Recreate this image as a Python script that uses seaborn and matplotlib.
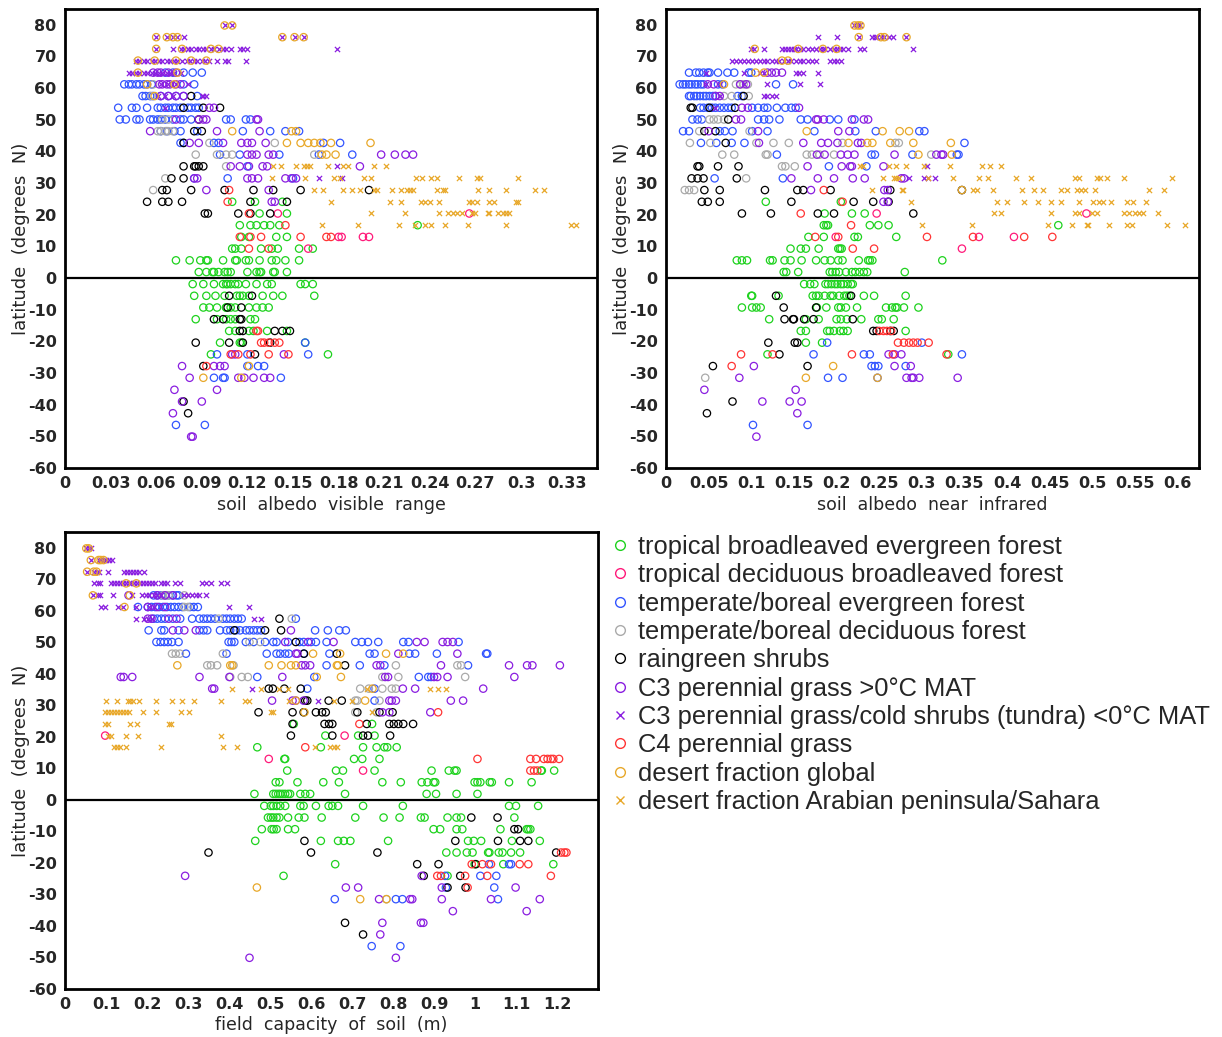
import pandas as pd
import matplotlib
matplotlib.use("Agg")
import matplotlib.pyplot as plt
import seaborn as sns
from matplotlib.lines import Line2D

# ---- categories ----
labels = [
    "tropical broadleaved evergreen forest",
    "tropical deciduous broadleaved forest",
    "temperate/boreal evergreen forest",
    "temperate/boreal deciduous forest",
    "raingreen shrubs",
    "C3 perennial grass >0\u00b0C MAT",
    "C3 perennial grass/cold shrubs (tundra) <0\u00b0C MAT",
    "C4 perennial grass",
    "desert fraction global",
    "desert fraction Arabian peninsula/Sahara",
]
keys = ["tbe", "tdb", "teb", "tbd", "rs", "c3", "c3t", "c4", "dg", "da"]
colors = ["#1ed21e", "#ff1a7a", "#3355ff", "#aaaaaa", "#000000",
          "#8a1ee0", "#8a1ee0", "#ff3535", "#e8a82a", "#e8a82a"]
markers = ["o", "o", "o", "o", "o", "o", "x", "o", "o", "x"]

# ---- panel 1: soil albedo visible range  {latitude: [values]} ----
vis_tbe = {
    24.1: [0.110, 0.125, 0.143], 20.4: [0.128, 0.146],
    16.7: [0.115, 0.122, 0.126, 0.131, 0.135, 0.141, 0.232],
    13.0: [0.116, 0.121, 0.139, 0.146],
    9.3: [0.110, 0.112, 0.116, 0.129, 0.136, 0.140, 0.154, 0.163],
    5.6: [0.073, 0.082, 0.089, 0.093, 0.094, 0.104, 0.112, 0.113, 0.119, 0.121, 0.128, 0.136, 0.139, 0.145, 0.154],
    1.9: [0.088, 0.093, 0.097, 0.098, 0.101, 0.105, 0.107, 0.109, 0.120, 0.126, 0.128, 0.129, 0.137, 0.138, 0.146],
    -1.9: [0.084, 0.091, 0.098, 0.104, 0.106, 0.107, 0.109, 0.112, 0.114, 0.119, 0.126, 0.133, 0.136, 0.155, 0.158, 0.163],
    -5.6: [0.085, 0.093, 0.099, 0.105, 0.113, 0.115, 0.117, 0.121, 0.130, 0.137, 0.143, 0.164],
    -9.3: [0.091, 0.095, 0.100, 0.106, 0.106, 0.109, 0.112, 0.121, 0.126, 0.130, 0.134],
    -13.0: [0.086, 0.100, 0.106, 0.109, 0.112, 0.122, 0.125],
    -16.7: [0.108, 0.112, 0.121, 0.124, 0.133, 0.146],
    -20.4: [0.102, 0.115, 0.116, 0.158], -24.1: [0.096, 0.173],
}
vis_tdb = {20.4: [0.140, 0.266], 13.0: [0.180, 0.182, 0.196, 0.200], 9.3: [0.160]}
vis_teb = {
    64.9: [0.066, 0.071, 0.078, 0.084, 0.090],
    61.2: [0.039, 0.042, 0.044, 0.047, 0.049, 0.052, 0.054, 0.057, 0.078, 0.085],
    57.5: [0.051, 0.053, 0.056, 0.058, 0.063, 0.068, 0.073, 0.078, 0.087],
    53.8: [0.035, 0.044, 0.047, 0.054, 0.061, 0.063, 0.066, 0.068, 0.071, 0.073, 0.076, 0.081, 0.083, 0.086, 0.088],
    50.1: [0.036, 0.040, 0.047, 0.049, 0.056, 0.058, 0.061, 0.063, 0.066, 0.071, 0.076, 0.078, 0.083, 0.106, 0.109, 0.119, 0.122],
    46.4: [0.063, 0.067, 0.072, 0.076, 0.087, 0.117, 0.135, 0.145, 0.154],
    42.7: [0.076, 0.078, 0.098, 0.101, 0.170, 0.181],
    39.0: [0.102, 0.115, 0.141, 0.167, 0.189], 35.3: [0.120],
    31.5: [0.085, 0.107, 0.150], -20.4: [0.158], -24.1: [0.100, 0.120, 0.160],
    -27.8: [0.120, 0.127, 0.131], -31.5: [0.098, 0.104, 0.105, 0.142],
    -46.4: [0.073, 0.092],
}
vis_tbd = {
    61.2: [0.058], 57.5: [0.057], 50.1: [0.064, 0.068],
    46.4: [0.061, 0.063, 0.066, 0.068, 0.071], 42.7: [0.095, 0.138],
    39.0: [0.086, 0.100, 0.106, 0.110, 0.164], 35.3: [0.106], 31.5: [0.066], 27.8: [0.058],
}
vis_rs = {
    57.5: [0.083], 53.8: [0.078, 0.091, 0.102], 50.1: [0.088], 46.4: [0.085, 0.090],
    42.7: [0.078], 35.3: [0.078, 0.085, 0.086, 0.088, 0.091], 31.5: [0.070, 0.078],
    27.8: [0.064, 0.067, 0.083, 0.105, 0.124, 0.137, 0.155, 0.200],
    24.1: [0.054, 0.064, 0.068, 0.077, 0.122, 0.146],
    20.4: [0.092, 0.094, 0.114, 0.122, 0.135],
    -5.6: [0.108, 0.123], -9.3: [0.107, 0.116], -13.0: [0.098, 0.104, 0.115, 0.116],
    -16.7: [0.115, 0.117, 0.138, 0.143, 0.148], -20.4: [0.086, 0.108, 0.117, 0.135],
    -24.1: [0.125], -27.8: [0.091], -39.0: [0.078], -42.7: [0.081],
}
vis_c3 = {
    64.9: [0.058, 0.061, 0.063, 0.068, 0.073],
    61.2: [0.062, 0.064, 0.067, 0.069, 0.073, 0.076],
    57.5: [0.063, 0.068, 0.073, 0.078], 53.8: [0.095, 0.098],
    50.1: [0.073, 0.088, 0.091, 0.093, 0.126, 0.127], 46.4: [0.056, 0.100, 0.128],
    42.7: [0.082, 0.088, 0.104, 0.116, 0.120, 0.123, 0.132],
    39.0: [0.120, 0.123, 0.126, 0.134, 0.137, 0.208, 0.217, 0.224, 0.229],
    35.3: [0.109, 0.115, 0.121, 0.130, 0.133, 0.194],
    31.5: [0.085, 0.087, 0.120, 0.123, 0.127, 0.145, 0.149, 0.152],
    27.8: [0.093, 0.134], 24.1: [0.136, 0.138],
    -24.1: [0.110, 0.112, 0.144], -27.8: [0.077, 0.098, 0.102, 0.105],
    -31.5: [0.082, 0.114, 0.118, 0.124, 0.131, 0.135], -35.3: [0.072, 0.100],
    -39.0: [0.077, 0.090], -42.7: [0.071], -50.1: [0.083, 0.084],
}
vis_c3t = {
    79.8: [0.105, 0.110],
    76.1: [0.060, 0.067, 0.071, 0.074, 0.078, 0.143, 0.151, 0.157],
    72.4: [0.060, 0.071, 0.076, 0.078, 0.081, 0.083, 0.086, 0.088, 0.091, 0.093, 0.096, 0.098, 0.101, 0.104, 0.106, 0.109, 0.115, 0.117, 0.120, 0.179],
    68.7: [0.047, 0.049, 0.052, 0.054, 0.057, 0.059, 0.062, 0.064, 0.067, 0.069, 0.072, 0.074, 0.077, 0.080, 0.082, 0.085, 0.087, 0.090, 0.092, 0.095, 0.100, 0.105, 0.107, 0.119],
    64.9: [0.042, 0.044, 0.047, 0.049, 0.052, 0.054, 0.057, 0.059, 0.062, 0.064, 0.067, 0.069, 0.072, 0.076],
    61.2: [0.063, 0.068, 0.073, 0.081], 57.5: [0.061, 0.066, 0.071, 0.090, 0.091, 0.093],
    53.8: [0.066], 35.3: [0.179], 31.5: [0.167, 0.182],
}
vis_c4 = {
    27.8: [0.108], 24.1: [0.107], 20.4: [0.121], 16.7: [0.145],
    13.0: [0.115, 0.122, 0.129, 0.155, 0.172, 0.175], 9.3: [0.121, 0.134],
    -16.7: [0.126, 0.127], -20.4: [0.129, 0.131, 0.134, 0.138, 0.141],
    -24.1: [0.109, 0.114, 0.122, 0.134, 0.147], -27.8: [0.093],
}
vis_dg = {
    79.8: [0.105, 0.110], 76.1: [0.060, 0.067, 0.071, 0.074, 0.143, 0.151, 0.157],
    72.4: [0.060, 0.077, 0.096, 0.101], 68.7: [0.048, 0.059, 0.073, 0.083, 0.093],
    64.9: [0.048, 0.074], 61.2: [0.054, 0.072], 57.5: [0.059],
    46.4: [0.110, 0.149, 0.152],
    42.7: [0.146, 0.155, 0.160, 0.164, 0.168, 0.175, 0.201],
    39.0: [0.169, 0.172, 0.178], -27.8: [0.121], -31.5: [0.091, 0.116],
}
vis_da = {
    35.3: [0.137, 0.142, 0.152, 0.157, 0.159, 0.161, 0.173, 0.183, 0.186, 0.203, 0.211],
    31.5: [0.136, 0.158, 0.177, 0.181, 0.197, 0.201, 0.231, 0.235, 0.241, 0.245, 0.259, 0.271, 0.273, 0.298],
    27.8: [0.164, 0.170, 0.183, 0.189, 0.194, 0.203, 0.205, 0.215, 0.221, 0.225, 0.227, 0.229, 0.245, 0.249, 0.250, 0.272, 0.279, 0.290, 0.309, 0.315],
    24.1: [0.175, 0.214, 0.221, 0.234, 0.237, 0.240, 0.246, 0.266, 0.268, 0.271, 0.279, 0.282, 0.297, 0.298],
    20.4: [0.201, 0.224, 0.246, 0.252, 0.255, 0.258, 0.261, 0.268, 0.270, 0.278, 0.279, 0.285, 0.288, 0.290, 0.292],
    16.7: [0.169, 0.193, 0.220, 0.230, 0.237, 0.241, 0.250, 0.265, 0.290, 0.333, 0.336],
}

# ---- panel 2: soil albedo near infrared ----
nir_tbe = {
    24.1: [0.117, 0.205], 20.4: [0.186, 0.218, 0.233],
    16.7: [0.185, 0.188, 0.190, 0.239, 0.249, 0.261, 0.460],
    13.0: [0.167, 0.185, 0.221, 0.225, 0.270],
    9.3: [0.146, 0.158, 0.164, 0.179, 0.202, 0.204, 0.206],
    5.6: [0.083, 0.089, 0.095, 0.122, 0.125, 0.139, 0.146, 0.159, 0.176, 0.186, 0.193, 0.202, 0.207, 0.226, 0.237, 0.239, 0.242, 0.324],
    1.9: [0.138, 0.141, 0.155, 0.192, 0.195, 0.199, 0.203, 0.211, 0.218, 0.222, 0.227, 0.232, 0.236, 0.280],
    -1.9: [0.162, 0.169, 0.174, 0.187, 0.190, 0.194, 0.198, 0.201, 0.205, 0.208, 0.213, 0.217, 0.219],
    -5.6: [0.100, 0.101, 0.132, 0.172, 0.176, 0.179, 0.186, 0.193, 0.196, 0.203, 0.209, 0.212, 0.215, 0.232, 0.244, 0.281],
    -9.3: [0.089, 0.101, 0.106, 0.111, 0.177, 0.188, 0.202, 0.205, 0.211, 0.224, 0.258, 0.265, 0.269, 0.271, 0.279, 0.296],
    -13.0: [0.121, 0.164, 0.179, 0.200, 0.205, 0.212, 0.229, 0.249, 0.253, 0.267],
    -16.7: [0.158, 0.164, 0.189, 0.192, 0.197, 0.204, 0.208, 0.213, 0.281],
    -20.4: [0.164, 0.183], -24.1: [0.119, 0.331],
}
nir_tdb = {20.4: [0.247, 0.493], 13.0: [0.199, 0.367, 0.408], 9.3: [0.347]}
nir_teb = {
    64.9: [0.027, 0.035, 0.039, 0.044, 0.049, 0.051, 0.061, 0.072, 0.080, 0.097, 0.100],
    61.2: [0.016, 0.020, 0.023, 0.027, 0.030, 0.034, 0.037, 0.041, 0.044, 0.061, 0.066, 0.129, 0.149],
    57.5: [0.027, 0.029, 0.033, 0.036, 0.040, 0.044, 0.047, 0.051, 0.055, 0.058, 0.084, 0.089],
    53.8: [0.040, 0.044, 0.049, 0.054, 0.058, 0.063, 0.068, 0.073, 0.077, 0.101, 0.108, 0.115, 0.119, 0.130, 0.140, 0.147, 0.152],
    50.1: [0.031, 0.037, 0.042, 0.108, 0.115, 0.121, 0.133, 0.158, 0.166, 0.192, 0.202, 0.221],
    46.4: [0.020, 0.027, 0.063, 0.069, 0.078, 0.101, 0.119, 0.174, 0.222, 0.246, 0.297, 0.303],
    42.7: [0.041, 0.059, 0.077, 0.092, 0.350],
    39.0: [0.130, 0.241, 0.245, 0.289, 0.341, 0.343],
    35.3: [0.191, 0.235], 31.5: [0.057, 0.137], -20.4: [0.189, 0.300],
    -24.1: [0.173, 0.232, 0.239, 0.347], -27.8: [0.241, 0.245, 0.249, 0.281],
    -31.5: [0.190, 0.207, 0.248], -46.4: [0.102, 0.166],
}
nir_tbd = {
    61.2: [0.082, 0.087, 0.091, 0.096], 57.5: [0.068, 0.077, 0.097],
    50.1: [0.051, 0.056, 0.061, 0.068], 46.4: [0.039, 0.098],
    42.7: [0.028, 0.052, 0.106, 0.126, 0.144, 0.207, 0.269, 0.273],
    39.0: [0.066, 0.080, 0.117, 0.119, 0.165, 0.171, 0.180, 0.197, 0.311],
    35.3: [0.136, 0.140, 0.151], 31.5: [0.094], 27.8: [0.022, 0.027, 0.033], -31.5: [0.046],
}
nir_rs = {
    57.5: [0.091], 53.8: [0.029, 0.031, 0.051, 0.081], 50.1: [0.073], 46.4: [0.045, 0.058],
    42.7: [0.070], 35.3: [0.037, 0.039, 0.061, 0.085], 31.5: [0.030, 0.037, 0.044, 0.083],
    27.8: [0.045, 0.063, 0.116, 0.154, 0.161, 0.193, 0.263, 0.347],
    24.1: [0.042, 0.049, 0.063, 0.147, 0.220, 0.243, 0.261],
    20.4: [0.089, 0.123, 0.178, 0.197, 0.290],
    -5.6: [0.129, 0.217], -9.3: [0.138, 0.176],
    -13.0: [0.139, 0.149, 0.150, 0.162, 0.173, 0.219],
    -16.7: [0.243, 0.247, 0.263, 0.267], -20.4: [0.120, 0.151, 0.154],
    -24.1: [0.133], -27.8: [0.055, 0.166], -39.0: [0.078], -42.7: [0.048],
}
nir_c3 = {
    64.9: [0.119, 0.124, 0.129, 0.136], 61.2: [0.049, 0.056, 0.087, 0.094],
    57.5: [0.058, 0.063], 53.8: [0.089, 0.096, 0.156],
    50.1: [0.082, 0.088, 0.176, 0.178, 0.185, 0.218, 0.232, 0.237],
    46.4: [0.050, 0.108, 0.202, 0.215],
    42.7: [0.109, 0.161, 0.182, 0.190, 0.201, 0.225, 0.229],
    39.0: [0.177, 0.186, 0.205, 0.213, 0.221, 0.268, 0.317, 0.323, 0.325],
    35.3: [0.166, 0.206, 0.216, 0.218, 0.255],
    31.5: [0.147, 0.178, 0.197, 0.219, 0.233, 0.276, 0.279],
    27.8: [0.170, 0.256, 0.260], 24.1: [0.255, 0.260],
    -24.1: [0.261, 0.268, 0.276], -27.8: [0.103, 0.268, 0.287],
    -31.5: [0.086, 0.282, 0.288, 0.290, 0.297, 0.342], -35.3: [0.045, 0.152],
    -39.0: [0.113, 0.145, 0.159], -42.7: [0.154], -50.1: [0.106],
}
nir_c3t = {
    79.8: [0.221, 0.225, 0.228],
    76.1: [0.178, 0.201, 0.226, 0.241, 0.245, 0.248, 0.252, 0.256, 0.261, 0.266, 0.282],
    72.4: [0.100, 0.103, 0.115, 0.136, 0.139, 0.143, 0.146, 0.150, 0.153, 0.157, 0.161, 0.166, 0.171, 0.176, 0.180, 0.184, 0.187, 0.192, 0.197, 0.200, 0.204, 0.208, 0.213, 0.227, 0.232, 0.290],
    68.7: [0.077, 0.082, 0.087, 0.091, 0.096, 0.101, 0.105, 0.110, 0.115, 0.119, 0.124, 0.129, 0.133, 0.138, 0.143, 0.147, 0.152, 0.157, 0.161, 0.166, 0.171, 0.176, 0.192, 0.197, 0.201, 0.205],
    64.9: [0.047, 0.091, 0.110, 0.115, 0.152, 0.156, 0.161, 0.178],
    61.2: [0.047, 0.063, 0.091, 0.119, 0.157, 0.180],
    57.5: [0.063, 0.115, 0.119, 0.124, 0.129], 53.8: [0.058],
    35.3: [0.306], 31.5: [0.285, 0.302, 0.307, 0.315],
}
nir_c4 = {
    27.8: [0.185], 24.1: [0.207], 20.4: [0.158], 16.7: [0.217],
    13.0: [0.175, 0.202, 0.306, 0.360, 0.420, 0.453], 9.3: [0.219, 0.244],
    -16.7: [0.250, 0.255, 0.259, 0.264],
    -20.4: [0.272, 0.279, 0.285, 0.290, 0.295, 0.308],
    -24.1: [0.088, 0.125, 0.218, 0.266, 0.329], -27.8: [0.077],
}
nir_dg = {
    79.8: [0.221, 0.225, 0.228], 76.1: [0.226, 0.252, 0.256, 0.282],
    72.4: [0.104, 0.155, 0.184, 0.200], 68.7: [0.136, 0.143], 64.9: [0.105, 0.115],
    61.2: [0.068], 46.4: [0.165, 0.254, 0.274, 0.285],
    42.7: [0.214, 0.236, 0.242, 0.263, 0.290, 0.334], 39.0: [0.296, 0.335],
    27.8: [0.347], -27.8: [0.196], -31.5: [0.164, 0.248],
}
nir_da = {
    35.3: [0.228, 0.231, 0.261, 0.270, 0.282, 0.302, 0.333, 0.371, 0.380, 0.393],
    31.5: [0.255, 0.267, 0.270, 0.273, 0.307, 0.336, 0.367, 0.378, 0.410, 0.428, 0.480, 0.484, 0.505, 0.509, 0.517, 0.537, 0.593],
    27.8: [0.242, 0.277, 0.278, 0.360, 0.365, 0.384, 0.417, 0.431, 0.442, 0.463, 0.470, 0.482, 0.487, 0.491, 0.503, 0.566, 0.584],
    24.1: [0.287, 0.388, 0.400, 0.420, 0.436, 0.451, 0.463, 0.484, 0.501, 0.508, 0.512, 0.522, 0.540, 0.548, 0.563],
    20.4: [0.385, 0.393, 0.451, 0.480, 0.484, 0.499, 0.505, 0.537, 0.543, 0.550, 0.555, 0.559, 0.577],
    16.7: [0.300, 0.359, 0.448, 0.476, 0.494, 0.495, 0.519, 0.540, 0.547, 0.587, 0.608],
}

# ---- panel 3: field capacity of soil (m) ----
fc_tbe = {
    24.1: [0.558, 0.749], 20.4: [0.635, 0.715, 0.755],
    16.7: [0.469, 0.624, 0.727, 0.760, 0.779, 0.786, 0.809],
    13.0: [0.535, 0.537, 0.705, 0.725, 0.767],
    9.3: [0.542, 0.661, 0.678, 0.755, 0.894, 0.936, 0.950, 0.955, 1.161, 1.163, 1.193],
    5.6: [0.514, 0.523, 0.567, 0.630, 0.668, 0.774, 0.819, 0.870, 0.884, 0.899, 0.903, 0.999, 1.006, 1.013, 1.036, 1.041, 1.083, 1.138],
    1.9: [0.462, 0.508, 0.514, 0.520, 0.525, 0.531, 0.537, 0.544, 0.549, 0.574, 0.586, 0.598, 0.683, 0.882, 0.905, 0.955, 1.006],
    -1.9: [0.486, 0.502, 0.508, 0.516, 0.525, 0.537, 0.574, 0.582, 0.612, 0.643, 0.652, 0.666, 0.727, 0.824, 1.083, 1.100, 1.154],
    -5.6: [0.495, 0.502, 0.508, 0.516, 0.523, 0.544, 0.570, 0.584, 0.626, 0.708, 0.777, 0.816, 0.868, 0.877, 0.933, 0.955, 0.966, 1.096],
    -9.3: [0.480, 0.504, 0.509, 0.516, 0.544, 0.561, 0.899, 0.915, 0.955, 0.969, 1.062, 1.126, 1.130, 1.135],
    -13.0: [0.464, 0.624, 0.666, 0.680, 0.696, 0.788, 0.983, 0.997, 1.015, 1.090, 1.158],
    -16.7: [0.930, 0.955, 0.980, 0.994, 1.032, 1.035, 1.058, 1.067, 1.088, 1.110],
    -20.4: [0.659, 0.999, 1.069, 1.191], -24.1: [0.533, 0.933],
}
fc_tdb = {20.4: [0.098, 0.682], 13.0: [0.497], 9.3: [0.727]}
fc_teb = {
    64.9: [0.216, 0.225, 0.235, 0.244, 0.253, 0.263, 0.272, 0.277],
    61.2: [0.178, 0.202, 0.211, 0.220, 0.230, 0.239, 0.249, 0.258, 0.267, 0.277, 0.286, 0.305, 0.314, 0.324],
    57.5: [0.216, 0.225, 0.235, 0.244, 0.263, 0.281, 0.310, 0.328, 0.338, 0.347, 0.356, 0.366, 0.385, 0.394, 0.403, 0.413, 0.422, 0.431, 0.563],
    53.8: [0.204, 0.235, 0.242, 0.277, 0.328, 0.338, 0.347, 0.378, 0.394, 0.403, 0.417, 0.427, 0.441, 0.450, 0.460, 0.469, 0.478, 0.610, 0.641, 0.669, 0.685],
    50.1: [0.223, 0.233, 0.242, 0.251, 0.261, 0.277, 0.399, 0.406, 0.413, 0.441, 0.460, 0.488, 0.508, 0.516, 0.544, 0.572, 0.582, 0.600, 0.612, 0.638, 0.708, 0.724, 0.739, 0.764, 0.825, 0.838, 0.960],
    46.4: [0.295, 0.394, 0.492, 0.516, 0.525, 0.537, 0.546, 0.582, 0.645, 0.743, 0.755, 0.840, 0.854, 0.907, 1.027, 1.030],
    42.7: [0.638, 0.719, 0.779, 0.983], 39.0: [0.469, 0.608, 0.863, 0.886, 0.893],
    35.3: [0.591, 0.755], 31.5: [0.755], -20.4: [1.034, 1.083, 1.088],
    -24.1: [0.927, 1.013, 1.052], -27.8: [0.929, 1.047],
    -31.5: [0.658, 0.807, 0.823, 1.056], -46.4: [0.748, 0.818],
}
fc_tbd = {
    64.9: [0.239, 0.246, 0.253, 0.291], 61.2: [0.291, 0.300], 57.5: [0.375, 0.553],
    50.1: [0.450, 0.476], 46.4: [0.261, 0.270, 0.280, 0.385],
    42.7: [0.347, 0.356, 0.371, 0.411, 0.807, 0.957, 0.966],
    39.0: [0.403, 0.431, 0.446, 0.774, 0.813, 0.976],
    35.3: [0.720, 0.741, 0.774, 0.797, 0.807], 31.5: [0.708, 0.713, 0.767],
    27.8: [0.708, 0.760], -31.5: [0.784],
}
fc_rs = {
    57.5: [0.523], 53.8: [0.413, 0.488, 0.527], 50.1: [0.563], 46.4: [0.583, 0.663],
    42.7: [0.683], 35.3: [0.497, 0.507, 0.535, 0.575], 31.5: [0.586, 0.591, 0.643, 0.675],
    27.8: [0.472, 0.555, 0.582, 0.612, 0.627, 0.636, 0.713, 0.767, 0.799],
    24.1: [0.555, 0.633, 0.644, 0.652, 0.736, 0.791, 0.802, 0.813, 0.825, 0.849],
    20.4: [0.551, 0.652, 0.727, 0.739, 0.793],
    -5.6: [0.991, 1.055], -9.3: [1.096, 1.105], -13.0: [0.584, 0.952, 1.056, 1.110, 1.130],
    -16.7: [0.350, 0.600, 0.762, 1.198], -20.4: [0.859, 0.911, 1.002],
    -24.1: [0.875, 0.964], -27.8: [0.933, 0.977], -39.0: [0.683], -42.7: [0.727],
}
fc_c3 = {
    64.9: [0.155, 0.225, 0.244, 0.263], 61.2: [0.202, 0.225, 0.244],
    57.5: [0.202, 0.211, 0.253, 0.272], 53.8: [0.263, 0.291, 0.319, 0.551],
    50.1: [0.537, 0.593, 0.655, 0.858, 0.877, 0.921, 0.933, 0.946],
    46.4: [0.563, 0.567, 0.813, 0.957],
    42.7: [0.577, 0.586, 0.598, 0.760, 0.769, 0.917, 1.083, 1.127, 1.140, 1.207],
    39.0: [0.136, 0.143, 0.164, 0.328, 0.401, 0.530, 0.781, 0.788, 0.900, 0.908, 0.933, 1.096],
    35.3: [0.359, 0.364, 0.824, 0.854, 1.020],
    31.5: [0.505, 0.555, 0.563, 0.582, 0.791, 0.797, 0.807, 0.941, 0.971],
    27.8: [0.774, 0.791, 0.891], -24.1: [0.293, 0.870],
    -27.8: [0.685, 0.715, 0.919, 1.099],
    -31.5: [0.766, 0.842, 0.847, 0.919, 1.039, 1.158], -35.3: [0.946, 1.126],
    -39.0: [0.774, 0.868, 0.874], -42.7: [0.769], -50.1: [0.450, 0.807],
}
fc_c3t = {
    79.8: [0.052, 0.058, 0.064],
    76.1: [0.063, 0.082, 0.087, 0.094, 0.101, 0.108, 0.115],
    72.4: [0.054, 0.070, 0.077, 0.084, 0.105, 0.145, 0.152, 0.159, 0.166, 0.174, 0.180, 0.192],
    68.7: [0.070, 0.080, 0.086, 0.113, 0.120, 0.127, 0.134, 0.141, 0.148, 0.155, 0.162, 0.169, 0.176, 0.183, 0.190, 0.197, 0.204, 0.211, 0.219, 0.235, 0.242, 0.249, 0.269, 0.281, 0.333, 0.344, 0.356, 0.380, 0.394],
    64.9: [0.068, 0.080, 0.086, 0.117, 0.164, 0.188, 0.197, 0.206, 0.216, 0.225, 0.235, 0.291, 0.300, 0.310, 0.319, 0.328, 0.345],
    61.2: [0.089, 0.098, 0.129, 0.141, 0.172, 0.206, 0.216, 0.401, 0.450],
    57.5: [0.174, 0.192, 0.202, 0.211, 0.460, 0.478], 35.3: [0.457], 31.5: [0.617],
}
fc_c4 = {
    27.8: [0.910], 24.1: [0.718], 16.7: [0.586],
    13.0: [1.006, 1.135, 1.149, 1.168, 1.177, 1.185, 1.191, 1.205], 9.3: [1.135, 1.144, 1.152],
    -16.7: [1.210, 1.218, 1.223], -20.4: [0.992, 1.018, 1.039, 1.109, 1.130],
    -24.1: [0.908, 0.917, 0.976, 1.030, 1.185], -27.8: [0.982],
}
fc_dg = {
    79.8: [0.052, 0.058], 76.1: [0.063, 0.082, 0.087, 0.094], 72.4: [0.054, 0.070, 0.077],
    68.7: [0.149, 0.174], 64.9: [0.068, 0.158], 61.2: [0.145],
    46.4: [0.605, 0.671, 0.783, 0.825],
    42.7: [0.274, 0.403, 0.408, 0.497, 0.528, 0.551, 0.563, 0.663, 0.666],
    39.0: [0.614, 0.673], 35.3: [0.750], 31.5: [0.563, 0.732], 27.8: [0.584],
    -27.8: [0.468], -31.5: [0.720, 0.784],
}
fc_da = {
    35.3: [0.408, 0.478, 0.521, 0.544, 0.736, 0.891, 0.910, 0.929],
    31.5: [0.101, 0.127, 0.153, 0.159, 0.167, 0.181, 0.222, 0.261, 0.286, 0.314, 0.380, 0.438, 0.448, 0.546, 0.657, 0.701],
    27.8: [0.098, 0.106, 0.113, 0.120, 0.127, 0.134, 0.141, 0.148, 0.155, 0.190, 0.222, 0.284, 0.302, 0.502, 0.508, 0.750],
    24.1: [0.098, 0.105, 0.159, 0.176, 0.253, 0.258],
    20.4: [0.106, 0.113, 0.150, 0.178, 0.380],
    16.7: [0.120, 0.127, 0.133, 0.150, 0.235, 0.385, 0.420, 0.610, 0.647, 0.657, 0.663],
}

vis_data = [vis_tbe, vis_tdb, vis_teb, vis_tbd, vis_rs, vis_c3, vis_c3t, vis_c4, vis_dg, vis_da]
nir_data = [nir_tbe, nir_tdb, nir_teb, nir_tbd, nir_rs, nir_c3, nir_c3t, nir_c4, nir_dg, nir_da]
fc_data = [fc_tbe, fc_tdb, fc_teb, fc_tbd, fc_rs, fc_c3, fc_c3t, fc_c4, fc_dg, fc_da]

vis_ticks = [0, 0.03, 0.06, 0.09, 0.12, 0.15, 0.18, 0.21, 0.24, 0.27, 0.3, 0.33]
nir_ticks = [0, 0.05, 0.1, 0.15, 0.2, 0.25, 0.3, 0.35, 0.4, 0.45, 0.5, 0.55, 0.6]
fc_ticks = [0, 0.1, 0.2, 0.3, 0.4, 0.5, 0.6, 0.7, 0.8, 0.9, 1, 1.1, 1.2]
lat_ticks = list(range(-60, 81, 10))


def to_frame(d):
    rows = [(x, lat) for lat, xs in d.items() for x in xs]
    return pd.DataFrame(rows, columns=["x", "lat"])


def draw_panel(ax, data, ticks, xmax, xlabel):
    for d, c, m in zip(data, colors, markers):
        df = to_frame(d)
        if m == "o":
            sns.scatterplot(data=df, x="x", y="lat", ax=ax, marker="o", s=28,
                            facecolor="none", edgecolor=c, linewidth=0.9, legend=False)
        else:
            sns.scatterplot(data=df, x="x", y="lat", ax=ax, marker="x", s=14,
                            color=c, linewidth=0.9, legend=False)
    ax.axhline(0, color="black", lw=1.6, zorder=0)
    ax.set_xlim(0, xmax)
    ax.set_ylim(-60, 85)
    ax.set_xticks(ticks)
    ax.set_xticklabels([f"{t:g}" for t in ticks])
    ax.set_yticks(lat_ticks)
    ax.set_yticklabels([str(t) for t in lat_ticks])
    for lab in ax.get_xticklabels() + ax.get_yticklabels():
        lab.set_family(["Liberation Sans Narrow", "DejaVu Sans Condensed", "DejaVu Sans"])
        lab.set_fontweight("bold")
        lab.set_fontsize(11.5)
    ax.tick_params(direction="out", length=4, width=1.2, pad=2, color="black")
    ax.set_xlabel(xlabel, fontsize=12.5, labelpad=3)
    ax.set_ylabel("latitude  (degrees  N)", fontsize=13)
    ax.yaxis.set_label_coords(-0.066, 0.5)
    for sp in ax.spines.values():
        sp.set_linewidth(2)
        sp.set_color("black")


sns.set_theme(style="white")
plt.rcParams["font.family"] = ["DejaVu Sans"]

W, H = 1222, 1037
fig = plt.figure(figsize=(W / 100, H / 100), dpi=100)

ax1 = fig.add_axes([65 / W, 1 - 468 / H, 532 / W, 459 / H])
draw_panel(ax1, vis_data, vis_ticks, 0.35, "soil  albedo  visible  range")

ax2 = fig.add_axes([666 / W, 1 - 468 / H, 533 / W, 459 / H])
draw_panel(ax2, nir_data, nir_ticks, 0.625, "soil  albedo  near  infrared")

ax3 = fig.add_axes([65 / W, 1 - 989 / H, 533 / W, 457 / H])
draw_panel(ax3, fc_data, fc_ticks, 1.30, "field  capacity  of  soil  (m)")

handles = []
for c, m in zip(colors, markers):
    if m == "o":
        handles.append(Line2D([], [], ls="", marker="o", mfc="none", mec=c, ms=7, mew=1))
    else:
        handles.append(Line2D([], [], ls="", marker="x", color=c, ms=6, mew=1))
fig.legend(handles, labels, loc="upper left", bbox_to_anchor=(611 / W, 1 - 535 / H),
           frameon=False, prop={"family": "Liberation Sans", "size": 18.4},
           handlelength=0.7, handletextpad=0.35, labelspacing=0.17, borderpad=0,
           borderaxespad=0)

fig.savefig("out.png", dpi=100)
